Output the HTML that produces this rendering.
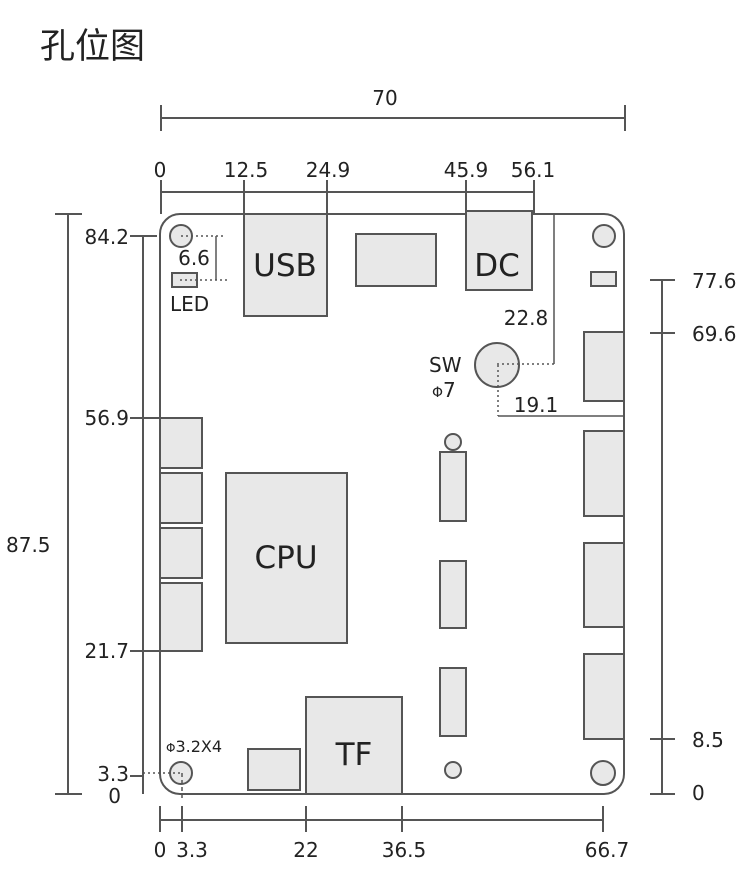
<!DOCTYPE html>
<html><head><meta charset="utf-8"><style>
html,body{margin:0;padding:0;background:#fff;width:750px;height:870px;overflow:hidden}
svg text{font-family:"DejaVu Sans","Liberation Sans",sans-serif;fill:#222}
</style></head><body>
<svg width="750" height="870" viewBox="0 0 750 870" xmlns="http://www.w3.org/2000/svg">
<text x="40" y="58" style="font-family:'Liberation Sans','Noto Sans CJK SC',sans-serif;font-size:35px">孔位图</text>
<g stroke="#555" stroke-width="2" fill="none">
<line x1="161" y1="118" x2="625" y2="118"/><line x1="161" y1="105" x2="161" y2="131"/><line x1="625" y1="105" x2="625" y2="131"/>
<line x1="161" y1="192" x2="534" y2="192"/>
<line x1="161" y1="180" x2="161" y2="214"/><line x1="244" y1="180" x2="244" y2="214"/><line x1="327" y1="180" x2="327" y2="214"/><line x1="466" y1="180" x2="466" y2="214"/><line x1="534" y1="180" x2="534" y2="214"/>
<line x1="68" y1="214" x2="68" y2="794"/><line x1="55" y1="214" x2="82" y2="214"/><line x1="55" y1="794" x2="82" y2="794"/>
<line x1="143" y1="236" x2="143" y2="794"/>
<line x1="130" y1="236" x2="157" y2="236"/><line x1="130" y1="418" x2="160" y2="418"/><line x1="130" y1="651" x2="160" y2="651"/><line x1="130" y1="776" x2="143" y2="776"/>
<line x1="662" y1="280" x2="662" y2="794"/>
<line x1="650" y1="280" x2="675" y2="280"/><line x1="650" y1="333" x2="675" y2="333"/><line x1="650" y1="739" x2="675" y2="739"/><line x1="650" y1="794" x2="675" y2="794"/>
<line x1="160" y1="820" x2="603" y2="820"/>
<line x1="160" y1="806" x2="160" y2="832"/><line x1="182" y1="806" x2="182" y2="832"/><line x1="306" y1="806" x2="306" y2="832"/><line x1="402" y1="806" x2="402" y2="832"/><line x1="603" y1="806" x2="603" y2="832"/>
<path d="M180 214 H604 A20 20 0 0 1 624 234 V774 A20 20 0 0 1 604 794 H180 A20 20 0 0 1 160 774 V234 A20 20 0 0 1 180 214 Z"/>
</g>
<g stroke="#555" stroke-width="2" fill="#e8e8e8">
<rect x="244" y="214" width="83" height="102"/>
<rect x="466" y="211" width="66" height="79"/>
<rect x="356" y="234" width="80" height="52"/>
<rect x="172" y="273" width="25" height="14"/>
<rect x="160" y="418" width="42" height="50"/><rect x="160" y="473" width="42" height="50"/><rect x="160" y="528" width="42" height="50"/><rect x="160" y="583" width="42" height="68"/>
<rect x="226" y="473" width="121" height="170"/>
<rect x="440" y="452" width="26" height="69"/><rect x="440" y="561" width="26" height="67"/><rect x="440" y="668" width="26" height="68"/>
<rect x="584" y="332" width="40" height="69"/><rect x="584" y="431" width="40" height="85"/><rect x="584" y="543" width="40" height="84"/><rect x="584" y="654" width="40" height="85"/>
<rect x="591" y="272" width="25" height="14"/>
<rect x="306" y="697" width="96" height="97"/>
<rect x="248" y="749" width="52" height="41"/>
<circle cx="181" cy="236" r="11"/><circle cx="604" cy="236" r="11"/><circle cx="181" cy="773" r="11"/><circle cx="603" cy="773" r="12"/>
<circle cx="453" cy="442" r="8"/><circle cx="453" cy="770" r="8"/>
<circle cx="497" cy="365" r="22"/>
</g>
<g stroke="#555" stroke-width="1.5" fill="none">
<line x1="181" y1="236" x2="226" y2="236" stroke-dasharray="2,3"/>
<line x1="180" y1="280" x2="228" y2="280" stroke-dasharray="2,3"/>
<line x1="216" y1="236" x2="216" y2="280"/>
<line x1="143" y1="773" x2="181" y2="773" stroke-dasharray="2,3"/>
<line x1="182" y1="773" x2="182" y2="800" stroke-dasharray="4,3"/>
<line x1="554" y1="214" x2="554" y2="364"/>
<line x1="497" y1="364" x2="554" y2="364" stroke-dasharray="2,3"/>
<line x1="498" y1="365" x2="498" y2="416" stroke-dasharray="2,3"/>
<line x1="498" y1="416" x2="624" y2="416"/>
</g>
<g font-size="20">
<text x="385" y="105" text-anchor="middle">70</text>
<text x="160" y="177" text-anchor="middle">0</text>
<text x="246" y="177" text-anchor="middle">12.5</text>
<text x="328" y="177" text-anchor="middle">24.9</text>
<text x="466" y="177" text-anchor="middle">45.9</text>
<text x="533" y="177" text-anchor="middle">56.1</text>
<text x="129" y="244" text-anchor="end">84.2</text>
<text x="129" y="425" text-anchor="end">56.9</text>
<text x="129" y="658" text-anchor="end">21.7</text>
<text x="129" y="781" text-anchor="end">3.3</text>
<text x="121" y="803" text-anchor="end">0</text>
<text x="6" y="552">87.5</text>
<text x="692" y="288">77.6</text>
<text x="692" y="341">69.6</text>
<text x="692" y="747">8.5</text>
<text x="692" y="800">0</text>
<text x="160" y="857" text-anchor="middle">0</text>
<text x="192" y="857" text-anchor="middle">3.3</text>
<text x="306" y="857" text-anchor="middle">22</text>
<text x="404" y="857" text-anchor="middle">36.5</text>
<text x="607" y="857" text-anchor="middle">66.7</text>
<text x="526" y="325" text-anchor="middle">22.8</text>
<text x="536" y="412" text-anchor="middle">19.1</text>
<text x="194" y="265" text-anchor="middle">6.6</text>
<text x="170" y="311">LED</text>
<text x="429" y="372">SW</text>
<text x="432" y="397"><tspan font-size="14">Φ</tspan>7</text>
<text x="166" y="752" font-size="16"><tspan font-size="12">Φ</tspan>3.2X4</text>
</g>
<g font-size="31">
<text x="285" y="276" text-anchor="middle">USB</text>
<text x="497" y="276" text-anchor="middle">DC</text>
<text x="286" y="568" text-anchor="middle">CPU</text>
<text x="354" y="765" text-anchor="middle">TF</text>
</g>
</svg>
</body></html>
